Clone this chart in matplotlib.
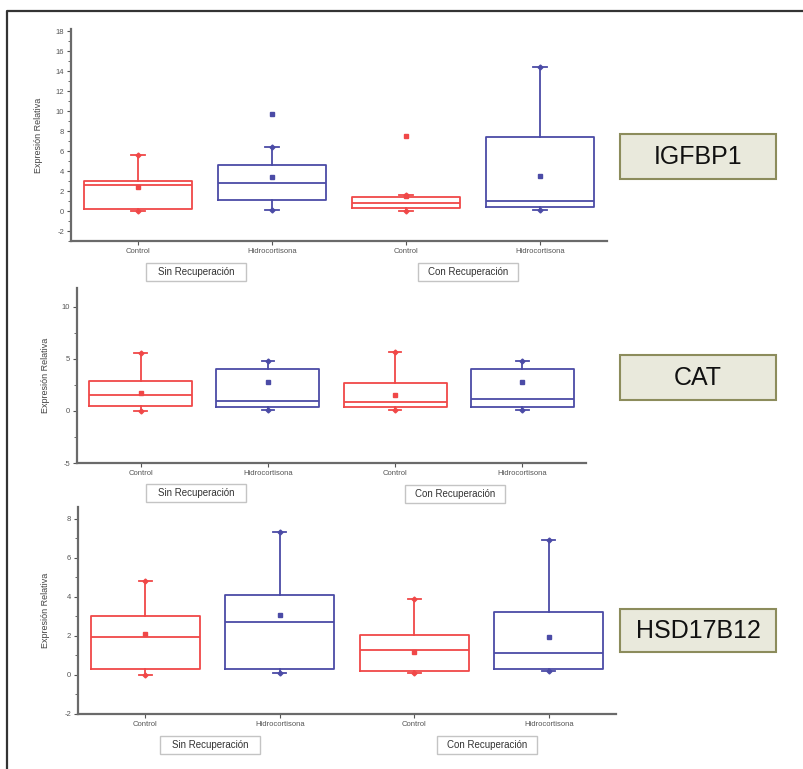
import matplotlib
matplotlib.use("Agg")
import matplotlib.pyplot as plt
from matplotlib.patches import Rectangle
from matplotlib.lines import Line2D
from matplotlib.ticker import MultipleLocator

plt.rcParams['font.family'] = ['Liberation Sans', 'DejaVu Sans']
plt.rcParams['axes.unicode_minus'] = False

# === Data ===
genes = ['IGFBP1', 'CAT', 'HSD17B12']
groups = ['Control', 'Hidrocortisona', 'Control', 'Hidrocortisona']
conditions = ['Sin Recuperación', 'Con Recuperación']

igfbp1_q1 = [0.2, 1.1, 0.3, 0.4]
igfbp1_med = [2.6, 2.8, 0.8, 1.0]
igfbp1_q3 = [3.0, 4.6, 1.4, 7.4]
igfbp1_lo = [0.0, 0.1, 0.0, 0.1]
igfbp1_hi = [5.6, 6.4, 1.6, 14.4]
igfbp1_mean = [2.4, 3.4, 1.5, 3.5]
igfbp1_out = [[], [9.7], [7.5], []]

cat_q1 = [0.5, 0.4, 0.4, 0.4]
cat_med = [1.5, 0.95, 0.85, 1.15]
cat_q3 = [2.9, 4.0, 2.7, 4.0]
cat_lo = [0.0, 0.1, 0.1, 0.1]
cat_hi = [5.6, 4.8, 5.7, 4.8]
cat_mean = [1.7, 2.8, 1.5, 2.8]
cat_out = [[], [], [], []]

hsd_q1 = [0.3, 0.3, 0.2, 0.3]
hsd_med = [1.95, 2.7, 1.3, 1.1]
hsd_q3 = [3.0, 4.1, 2.05, 3.2]
hsd_lo = [0.0, 0.1, 0.1, 0.2]
hsd_hi = [4.8, 7.3, 3.9, 6.9]
hsd_mean = [2.1, 3.05, 1.2, 1.95]
hsd_out = [[], [], [], []]

data = [
    (igfbp1_q1, igfbp1_med, igfbp1_q3, igfbp1_lo, igfbp1_hi, igfbp1_mean, igfbp1_out),
    (cat_q1, cat_med, cat_q3, cat_lo, cat_hi, cat_mean, cat_out),
    (hsd_q1, hsd_med, hsd_q3, hsd_lo, hsd_hi, hsd_mean, hsd_out),
]

RED = '#f04848'
BLUE = '#4b4ba6'
colors = [RED, BLUE, RED, BLUE]

W, H = 804, 769

def px_axes(x0, x1, ytop, ybot):
    return [x0 / W, 1 - ybot / H, (x1 - x0) / W, (ybot - ytop) / H]

# === Layout (pixel boxes of each panel) ===
panels = [
    dict(rect=px_axes(71, 607, 29, 241), ylim=(-3, 18.2), major=2, minor=1,
         ylab_x=43, gene_box=(620, 134, 776, 179),
         cond_boxes=[(196, 272), (468, 272)]),
    dict(rect=px_axes(77, 586, 288, 463), ylim=(-5, 11.8), major=5, minor=2.5,
         ylab_x=50, gene_box=(620, 355, 776, 400),
         cond_boxes=[(196, 493), (455, 494)]),
    dict(rect=px_axes(78, 616, 507, 714), ylim=(-2, 8.6), major=2, minor=1,
         ylab_x=50, gene_box=(620, 609, 776, 652),
         cond_boxes=[(210, 745), (487, 745)]),
]

fig = plt.figure(figsize=(W / 100, H / 100), dpi=100)

for gene, p, d in zip(genes, panels, data):
    q1, med, q3, lo, hi, mean, out = d
    ax = fig.add_axes(p['rect'])
    stats = []
    for i in range(4):
        stats.append(dict(q1=q1[i], med=med[i], q3=q3[i], whislo=lo[i],
                          whishi=hi[i], mean=mean[i], fliers=out[i]))
    pos = [1, 2, 3, 4]
    for i in range(4):
        c = colors[i]
        ax.bxp([stats[i]], positions=[pos[i]], widths=0.81, showmeans=True,
               capwidths=0.1,
               boxprops=dict(color=c, lw=1.3),
               medianprops=dict(color=c, lw=1.3),
               whiskerprops=dict(color=c, lw=1.3),
               capprops=dict(color=c, lw=1.3),
               meanprops=dict(marker='s', markersize=3, markerfacecolor=c,
                              markeredgecolor=c),
               flierprops=dict(marker='s', markersize=3, markerfacecolor=c,
                               markeredgecolor=c))
        ax.plot([pos[i], pos[i]], [lo[i], hi[i]], ls='none', marker='D',
                ms=2.5, color=c)

    ax.set_xlim(0.5, 4.5)
    ax.set_ylim(*p['ylim'])
    ax.set_xticks([1, 2, 3, 4])
    ax.set_xticklabels(groups)
    ax.yaxis.set_major_locator(MultipleLocator(p['major']))
    ax.yaxis.set_minor_locator(MultipleLocator(p['minor']))
    for s in ['top', 'right']:
        ax.spines[s].set_visible(False)
    for s in ['left', 'bottom']:
        ax.spines[s].set_color('#6a6a6a')
        ax.spines[s].set_linewidth(1.6)
    ax.tick_params(axis='both', which='major', labelsize=5.5, colors='#555555',
                   length=3, width=0.8, pad=2)
    ax.tick_params(axis='y', which='minor', length=2, width=0.6, colors='#555555')
    ax.tick_params(axis='x', which='minor', length=0)
    ax.set_ylabel('Expresión Relativa', fontsize=6.5, color='#444444')
    ax.yaxis.set_label_coords((p['ylab_x'] - p['rect'][0] * W) / (p['rect'][2] * W), 0.5)

    # condition label boxes
    for (cx, cy), txt in zip(p['cond_boxes'], conditions):
        bw, bh = 100, 18
        fig.patches.append(Rectangle(((cx - bw / 2) / W, 1 - (cy + bh / 2) / H),
                                     bw / W, bh / H, transform=fig.transFigure,
                                     fc='white', ec='#c4c4c4', lw=1.0))
        fig.text(cx / W, 1 - cy / H, txt, ha='center', va='center', fontsize=7,
                 color='#333333')

    # gene label box
    x0, y0, x1, y1 = p['gene_box']
    fig.patches.append(Rectangle((x0 / W, 1 - y1 / H), (x1 - x0) / W, (y1 - y0) / H,
                                 transform=fig.transFigure, fc='#e9e9dc',
                                 ec='#8c8c5c', lw=1.5))
    fig.text((x0 + x1) / 2 / W, 1 - (y0 + y1) / 2 / H, gene, ha='center',
             va='center', fontsize=18, color='#111111')

# outer frame (left and top edges)
fx = 7 / W
fy = 1 - 11 / H
fig.lines.append(Line2D([fx, fx, 1], [0, fy, fy], transform=fig.transFigure,
                        color='#333333', lw=1.6))

fig.savefig('out.png', dpi=100)
